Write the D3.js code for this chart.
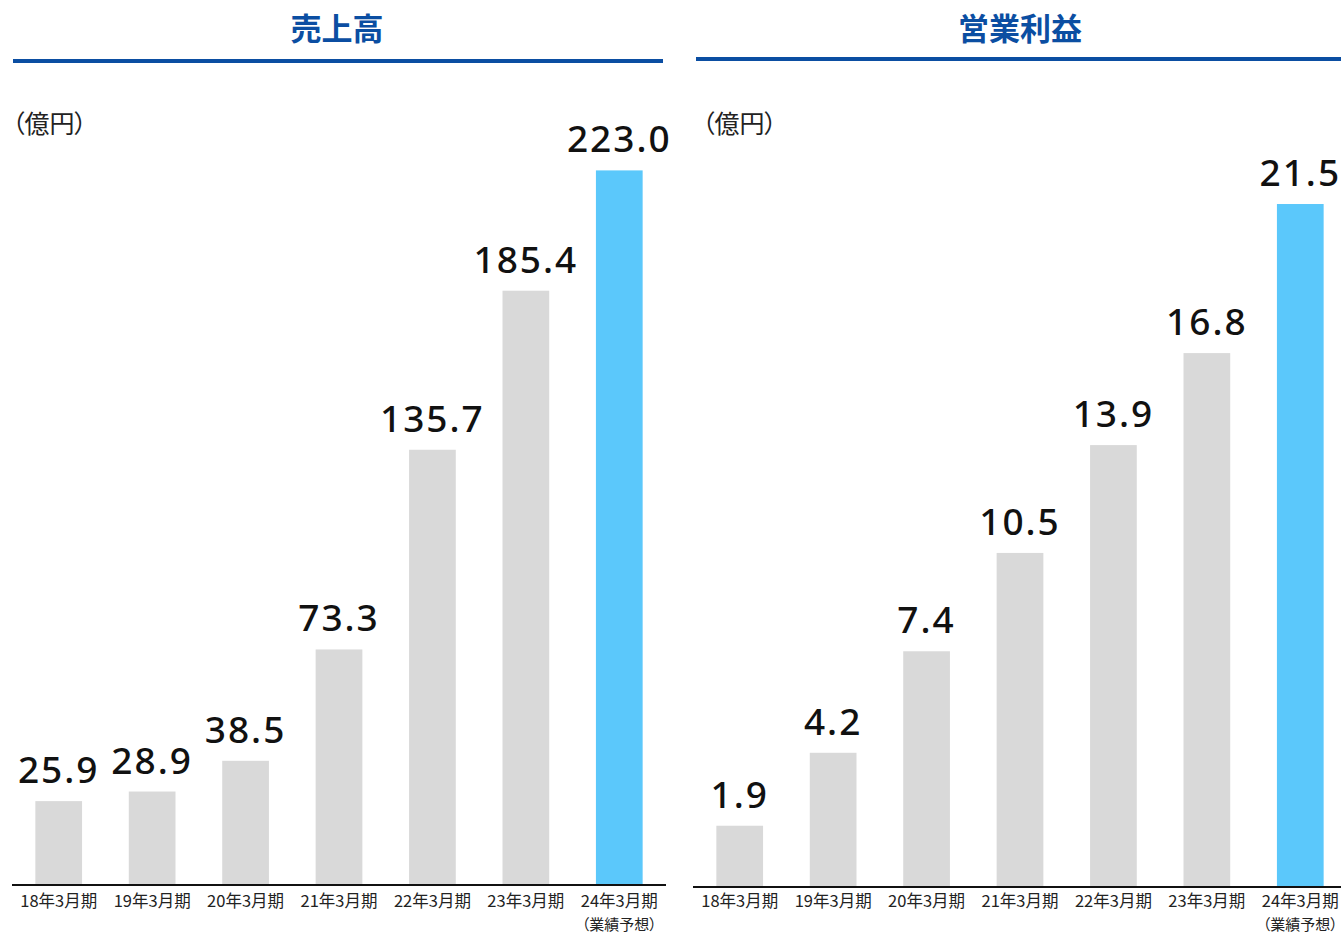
<!DOCTYPE html>
<html lang="ja">
<head>
<meta charset="utf-8">
<script src="https://cdn.jsdelivr.net/npm/d3@7"></script>
<style>
  html, body { margin: 0; padding: 0; background: #fff; }
  svg { display: block; }
  .palt { font-feature-settings: "palt"; }
</style>
</head>
<body>
<svg id="chart" width="1341" height="934"></svg>
<script>
// Fiscal periods (shared by both panels)
const periods = ["18年3月期", "19年3月期", "20年3月期", "21年3月期", "22年3月期", "23年3月期", "24年3月期"];
const forecastNote = "（業績予想）";
const forecastIndex = 6;

// 売上高 (億円)
const salesValues = [25.9, 28.9, 38.5, 73.3, 135.7, 185.4, 223.0];
// 営業利益 (億円)
const profitValues = [1.9, 4.2, 7.4, 10.5, 13.9, 16.8, 21.5];

const unitLabel = "（億円）";

const svg = d3.select("#chart");
const CJK = "'Noto Sans CJK JP', 'Noto Sans', sans-serif";
const NUM = "'Noto Sans', 'Noto Sans CJK JP', sans-serif";
const titleBlue = "#0b4ea2";
const grey = "#d9d9d9";
const sky = "#5bc8fb";

const panels = [
  { title: "売上高", values: salesValues, yMax: 250,
    xRange: [12, 666], base: 884, top: 84, tickPad: 11,
    rule: [13, 663], ruleY: 61, titleX: 337, unitX: 12, axisX: [12, 666] },
  { title: "営業利益", values: profitValues, yMax: 25,
    xRange: [693, 1347], base: 886, top: 93, tickPad: 9,
    rule: [696, 1341], ruleY: 59, titleX: 1020, unitX: 702, axisX: [693, 1341] }
];

panels.forEach(p => {
  const g = svg.append("g");

  const x = d3.scaleBand().domain(periods).range(p.xRange).paddingInner(0.5).paddingOuter(0.25);
  const y = d3.scaleLinear().domain([0, p.yMax]).range([p.base, p.top]);

  // Title and blue rule
  g.append("text")
    .attr("x", p.titleX).attr("y", 40)
    .attr("text-anchor", "middle")
    .attr("font-family", CJK).attr("font-weight", 700).attr("font-size", 31)
    .attr("fill", titleBlue)
    .text(p.title);
  g.append("line")
    .attr("x1", p.rule[0]).attr("x2", p.rule[1])
    .attr("y1", p.ruleY).attr("y2", p.ruleY)
    .attr("stroke", titleBlue).attr("stroke-width", 4);

  // Unit
  g.append("text")
    .attr("class", "palt")
    .attr("x", p.unitX).attr("y", 133)
    .attr("font-family", CJK).attr("font-size", 25)
    .attr("fill", "#222")
    .text(unitLabel);

  // Bars
  g.selectAll("rect.bar").data(p.values).join("rect")
    .attr("class", "bar")
    .attr("x", (d, i) => x(periods[i]))
    .attr("width", x.bandwidth())
    .attr("y", d => y(d))
    .attr("height", d => y(0) - y(d))
    .attr("fill", (d, i) => i === forecastIndex ? sky : grey);

  // Value labels
  g.selectAll("text.val").data(p.values).join("text")
    .attr("class", "val")
    .attr("x", (d, i) => x(periods[i]) + x.bandwidth() / 2)
    .attr("y", d => y(d) - 18)
    .attr("text-anchor", "middle")
    .attr("font-family", NUM).attr("font-weight", 500).attr("font-size", 37)
    .attr("letter-spacing", 2)
    .attr("fill", "#111")
    .text(d => d.toFixed(1));

  // Axis
  const axis = g.append("g")
    .attr("transform", `translate(0,${p.base})`)
    .call(d3.axisBottom(x).tickSize(0).tickPadding(p.tickPad));
  axis.select(".domain").remove();
  axis.selectAll(".tick text")
    .attr("font-family", CJK).attr("font-size", 16.5).attr("fill", "#222");
  g.append("line")
    .attr("x1", p.axisX[0]).attr("x2", p.axisX[1])
    .attr("y1", p.base + 1).attr("y2", p.base + 1)
    .attr("stroke", "#111").attr("stroke-width", 2);

  // Forecast note under the last period
  g.append("text")
    .attr("class", "palt")
    .attr("x", x(periods[forecastIndex]) + x.bandwidth() / 2)
    .attr("y", 929.5)
    .attr("text-anchor", "middle")
    .attr("font-family", CJK).attr("font-size", 15).attr("fill", "#222")
    .text(forecastNote);
});
</script>
</body>
</html>
